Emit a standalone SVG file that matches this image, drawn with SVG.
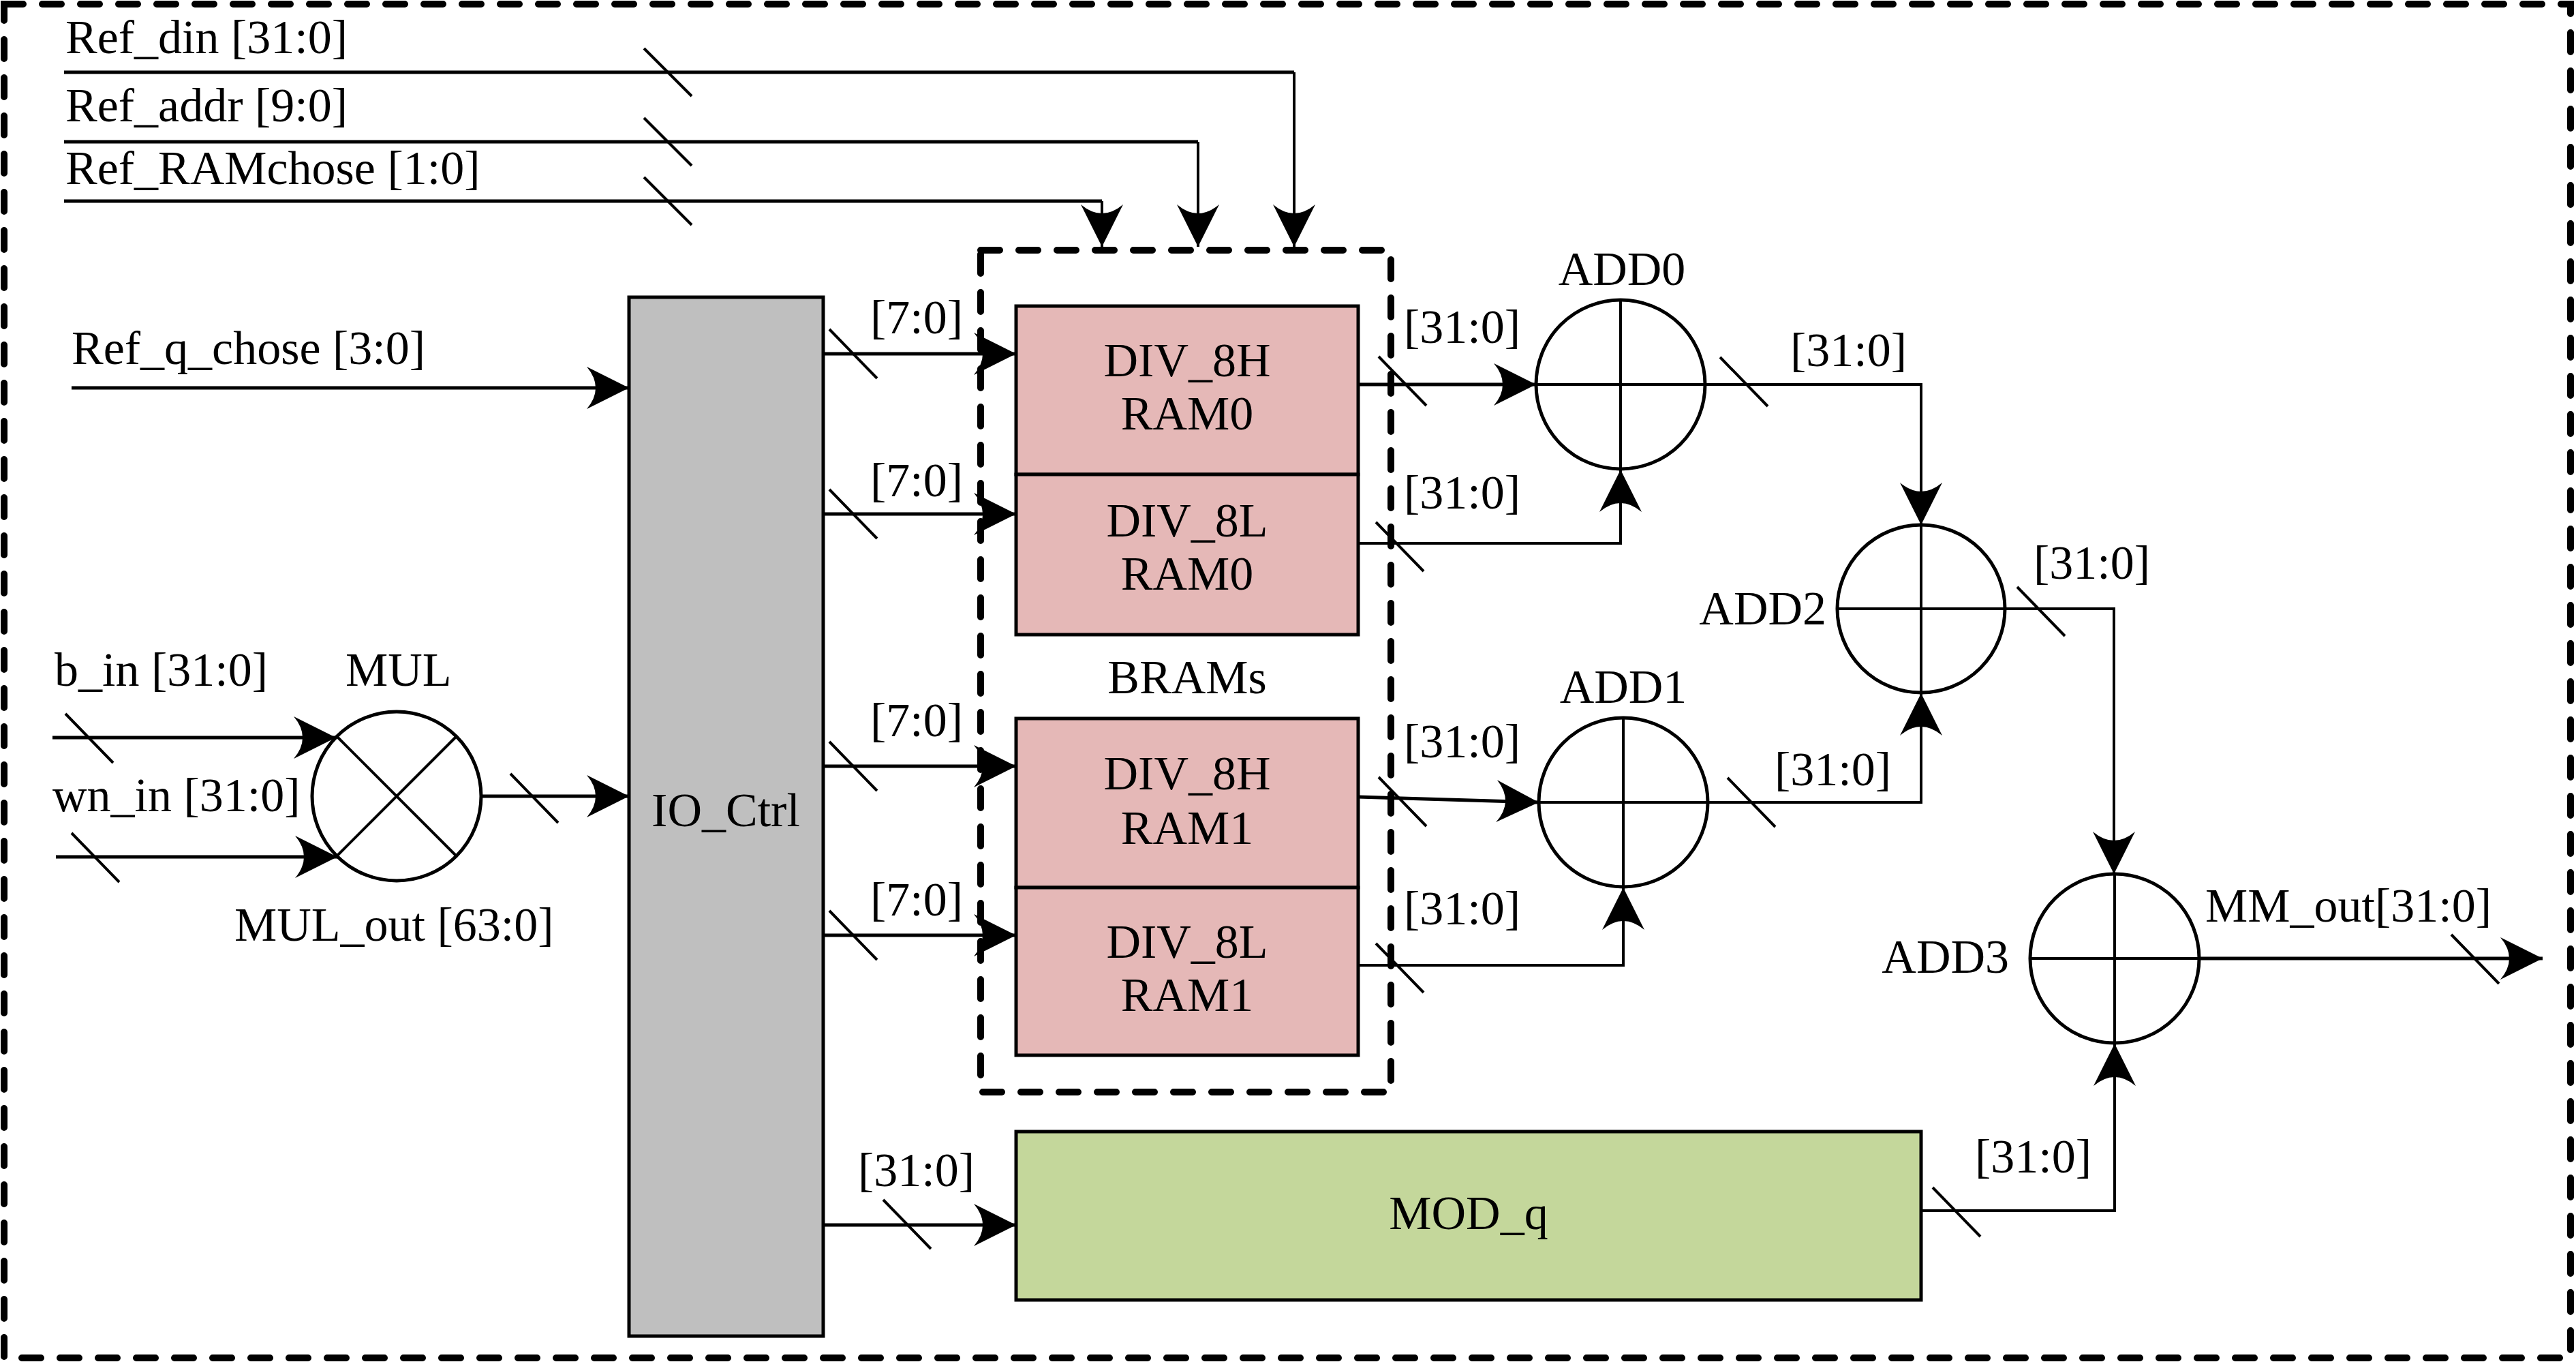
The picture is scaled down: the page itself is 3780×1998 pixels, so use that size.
<svg xmlns="http://www.w3.org/2000/svg" width="3780" height="1998" viewBox="0 0 3780 1998">
<style>
text{font-family:"Liberation Serif","DejaVu Serif",serif;font-size:70px;fill:#000}
.mid{text-anchor:middle}
.end{text-anchor:end}
.box{stroke:#000;stroke-width:5}
.ram{fill:#e5b8b7}
.io{fill:#bfbfbf}
.mod{fill:#c4d79b}
.dash{fill:none;stroke:#000;stroke-width:10;stroke-dasharray:28 28;stroke-linecap:round}
.op{fill:none;stroke:#000;stroke-width:5}
.cross{stroke:#000;stroke-width:4}
.wire{fill:none;stroke:#000;stroke-width:5}
.thin{fill:none;stroke:#000;stroke-width:4}
.bus{stroke:#000;stroke-width:4}
</style>
<defs>
<marker id="arr" viewBox="-64 -33 66 66" refX="0" refY="0" markerWidth="66" markerHeight="66" markerUnits="userSpaceOnUse" orient="auto">
<path d="M0,0 L-62,-31 Q-36,0 -62,31 Z" fill="#000"/>
</marker>
</defs>
<rect width="3780" height="1998" fill="#fff"/>
<rect id="frame" class="dash" x="6" y="6" width="3766" height="1986"/>

<g id="bram-group">
<rect class="dash" x="1439" y="367" width="602" height="1235" stroke-width="9"/>
<text class="mid" x="1742" y="1017">BRAMs</text>
</g>

<g id="io-ctrl">
<rect class="box io" x="923" y="436" width="285" height="1524"/>
<text class="mid" x="1065" y="1212">IO_Ctrl</text>
</g>

<g id="div8h-ram0">
<rect class="box ram" x="1491" y="449" width="502" height="247"/>
<text class="mid" x="1742" y="552">DIV_8H</text>
<text class="mid" x="1742" y="630">RAM0</text>
</g>
<g id="div8l-ram0">
<rect class="box ram" x="1491" y="696" width="502" height="235"/>
<text class="mid" x="1742" y="787">DIV_8L</text>
<text class="mid" x="1742" y="865">RAM0</text>
</g>
<g id="div8h-ram1">
<rect class="box ram" x="1491" y="1054" width="502" height="248"/>
<text class="mid" x="1742" y="1158">DIV_8H</text>
<text class="mid" x="1742" y="1238">RAM1</text>
</g>
<g id="div8l-ram1">
<rect class="box ram" x="1491" y="1302" width="502" height="246"/>
<text class="mid" x="1742" y="1405">DIV_8L</text>
<text class="mid" x="1742" y="1483">RAM1</text>
</g>

<g id="mod-q">
<rect class="box mod" x="1491" y="1660" width="1328" height="247"/>
<text class="mid" x="2155" y="1803">MOD_q</text>
</g>

<g id="mul">
<circle class="op" cx="582" cy="1168" r="124"/>
<line class="cross" x1="494" y1="1080" x2="670" y2="1256"/>
<line class="cross" x1="670" y1="1080" x2="494" y2="1256"/>
<text x="507" y="1006">MUL</text>
</g>

<g id="add0">
<circle class="op" cx="2378" cy="564" r="124"/>
<line class="cross" x1="2254" y1="564" x2="2502" y2="564"/>
<line class="cross" x1="2378" y1="440" x2="2378" y2="688"/>
<text class="mid" x="2380" y="418">ADD0</text>
</g>
<g id="add1">
<circle class="op" cx="2382" cy="1177" r="124"/>
<line class="cross" x1="2258" y1="1177" x2="2506" y2="1177"/>
<line class="cross" x1="2382" y1="1053" x2="2382" y2="1301"/>
<text class="mid" x="2382" y="1031">ADD1</text>
</g>
<g id="add2">
<circle class="op" cx="2819" cy="893" r="123"/>
<line class="cross" x1="2696" y1="893" x2="2942" y2="893"/>
<line class="cross" x1="2819" y1="770" x2="2819" y2="1016"/>
<text class="end" x="2680" y="916">ADD2</text>
</g>
<g id="add3">
<circle class="op" cx="3103" cy="1406" r="124"/>
<line class="cross" x1="2979" y1="1406" x2="3227" y2="1406"/>
<line class="cross" x1="3103" y1="1282" x2="3103" y2="1530"/>
<text class="end" x="2948" y="1427">ADD3</text>
</g>

<g id="connectors">
<path class="wire" d="M94,106 H1899" />
<path class="thin" d="M1899,106 V362" marker-end="url(#arr)"/>
<path class="wire" d="M94,208 H1758" />
<path class="thin" d="M1758,208 V362" marker-end="url(#arr)"/>
<path class="wire" d="M94,295 H1617" />
<path class="thin" d="M1617,295 V362" marker-end="url(#arr)"/>
<path class="wire" d="M105,569 H923" marker-end="url(#arr)"/>
<path class="wire" d="M77,1082 H493" marker-end="url(#arr)"/>
<path class="wire" d="M82,1257 H495" marker-end="url(#arr)"/>
<path class="wire" d="M706,1168 H923" marker-end="url(#arr)"/>
<path class="wire" d="M1208,519 H1491" marker-end="url(#arr)"/>
<path class="wire" d="M1208,754 H1491" marker-end="url(#arr)"/>
<path class="wire" d="M1208,1124 H1491" marker-end="url(#arr)"/>
<path class="wire" d="M1208,1372 H1491" marker-end="url(#arr)"/>
<path class="wire" d="M1208,1797 H1491" marker-end="url(#arr)"/>
<path class="wire" d="M1993,564 H2254" marker-end="url(#arr)"/>
<path class="thin" d="M1993,797 H2378 V689" marker-end="url(#arr)"/>
<path class="wire" d="M1993,1169 L2258,1177" marker-end="url(#arr)"/>
<path class="thin" d="M1993,1416 H2382 V1302" marker-end="url(#arr)"/>
<path class="thin" d="M2502,564 H2819 V770" marker-end="url(#arr)"/>
<path class="thin" d="M2506,1177 H2819 V1017" marker-end="url(#arr)"/>
<path class="thin" d="M2942,893 H3102 V1282" marker-end="url(#arr)"/>
<path class="thin" d="M2819,1776 H3103 V1531" marker-end="url(#arr)"/>
<path class="wire" d="M3227,1406 H3731" marker-end="url(#arr)"/>

<g id="bus-marks">
<line class="bus" x1="945" y1="71" x2="1015" y2="141"/>
<line class="bus" x1="945" y1="173" x2="1015" y2="243"/>
<line class="bus" x1="945" y1="260" x2="1015" y2="330"/>
<line class="bus" x1="96" y1="1047" x2="166" y2="1119"/>
<line class="bus" x1="105" y1="1222" x2="175" y2="1294"/>
<line class="bus" x1="749" y1="1135" x2="819" y2="1207"/>
<line class="bus" x1="1217" y1="483" x2="1287" y2="555"/>
<line class="bus" x1="1217" y1="718" x2="1287" y2="790"/>
<line class="bus" x1="1217" y1="1088" x2="1287" y2="1160"/>
<line class="bus" x1="1217" y1="1336" x2="1287" y2="1408"/>
<line class="bus" x1="1296" y1="1760" x2="1366" y2="1832"/>
<line class="bus" x1="2023" y1="523" x2="2093" y2="595"/>
<line class="bus" x1="2019" y1="766" x2="2089" y2="838"/>
<line class="bus" x1="2023" y1="1140" x2="2093" y2="1212"/>
<line class="bus" x1="2019" y1="1384" x2="2089" y2="1456"/>
<line class="bus" x1="2524" y1="524" x2="2594" y2="596"/>
<line class="bus" x1="2535" y1="1141" x2="2605" y2="1213"/>
<line class="bus" x1="2960" y1="861" x2="3030" y2="933"/>
<line class="bus" x1="3597" y1="1371" x2="3667" y2="1443"/>
<line class="bus" x1="2836" y1="1742" x2="2906" y2="1814"/>
</g>

<text x="96" y="78">Ref_din [31:0]</text>
<text x="96" y="178">Ref_addr [9:0]</text>
<text x="96" y="270">Ref_RAMchose [1:0]</text>
<text x="105" y="534">Ref_q_chose [3:0]</text>
<text x="80" y="1006">b_in [31:0]</text>
<text x="77" y="1190">wn_in [31:0]</text>
<text x="344" y="1380">MUL_out [63:0]</text>
<text x="1277" y="489">[7:0]</text>
<text x="1277" y="728">[7:0]</text>
<text x="1277" y="1080">[7:0]</text>
<text x="1277" y="1343">[7:0]</text>
<text x="1259" y="1740">[31:0]</text>
<text x="2060" y="503">[31:0]</text>
<text x="2060" y="746">[31:0]</text>
<text x="2060" y="1111">[31:0]</text>
<text x="2060" y="1356">[31:0]</text>
<text x="2627" y="537">[31:0]</text>
<text x="2604" y="1152">[31:0]</text>
<text x="2984" y="849">[31:0]</text>
<text x="2898" y="1720">[31:0]</text>
<text x="3236" y="1352">MM_out[31:0]</text>
</g>
</svg>
